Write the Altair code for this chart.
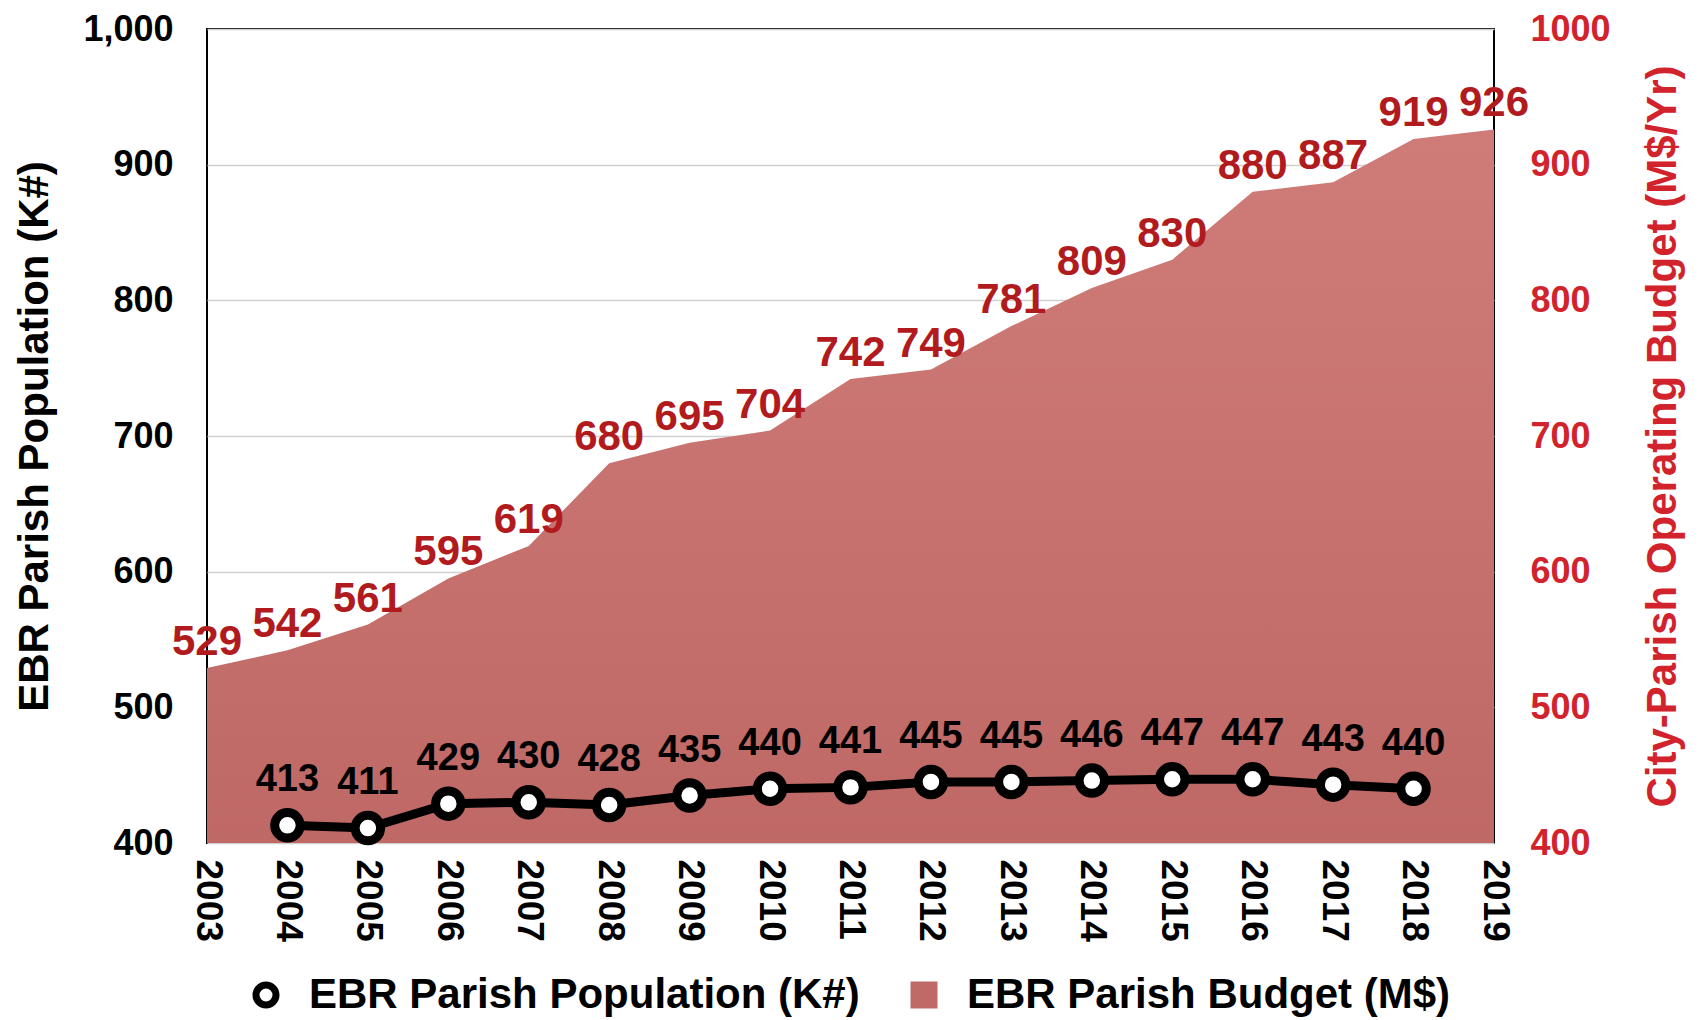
import altair as alt
import pandas as pd

# ---- data ----
budget_years = [2003, 2004, 2005, 2006, 2007, 2008, 2009, 2010, 2011,
                2012, 2013, 2014, 2015, 2016, 2017, 2018, 2019]
budget = [529, 542, 561, 595, 619, 680, 695, 704, 742,
          749, 781, 809, 830, 880, 887, 919, 926]
pop_years = [2004, 2005, 2006, 2007, 2008, 2009, 2010, 2011,
             2012, 2013, 2014, 2015, 2016, 2017, 2018]
population = [413, 411, 429, 430, 428, 435, 440, 441,
              445, 445, 446, 447, 447, 443, 440]
y_ticks = [400, 500, 600, 700, 800, 900, 1000]
series_names = ["EBR Parish Population (K#)", "EBR Parish Budget (M$)"]

FONT = "Liberation Sans"
RED_AXIS = "#d2232c"
RED_LABEL = "#b11b1d"
LEGEND_RED = "#c06a67"

bdf = pd.DataFrame({"year": budget_years, "budget": budget})
pdf = pd.DataFrame({"year": pop_years, "population": population,
                    "series": [series_names[0]] * len(pop_years)})

x_axis = alt.Axis(values=budget_years, format="d", labelAngle=90, ticks=False,
                  domain=False, grid=False, title=None, labelFontSize=37,
                  labelFont=FONT, labelFontWeight="bold", labelColor="black",
                  labelPadding=16, labelFlush=False, labelOverlap=False)
x_enc = alt.X("year:Q", scale=alt.Scale(domain=[2003, 2019], nice=False, zero=False),
              axis=x_axis)

y_scale = alt.Scale(domain=[400, 1000], nice=False, zero=False)

left_axis = alt.Axis(orient="left", title="EBR Parish Population (K#)", values=y_ticks,
                     format=",d", grid=True, gridColor="#d0d0d0", gridWidth=1.5,
                     ticks=False, domain=False, labelFontSize=36, labelFont=FONT,
                     labelFontWeight="bold", labelColor="black", labelPadding=34,
                     titleFontSize=42, titleFont=FONT, titleFontWeight="bold",
                     titleColor="black", titlePadding=26)
right_axis = alt.Axis(orient="right", title="City-Parish Operating Budget (M$/Yr)",
                      values=y_ticks, format="d", grid=False, ticks=False, domain=False,
                      labelFontSize=36, labelFont=FONT, labelFontWeight="bold",
                      labelColor=RED_AXIS, labelPadding=36,
                      titleFontSize=42, titleFont=FONT, titleFontWeight="bold",
                      titleColor=RED_AXIS, titlePadding=32, titleAngle=270,
                      titleBaseline="top")

gradient = alt.Gradient(gradient="linear",
                        stops=[alt.GradientStop(color="#cf7c79", offset=0),
                               alt.GradientStop(color="#b35a58", offset=1)],
                        x1=0, x2=0, y1=0, y2=1)

y_budget = alt.Y("budget:Q", scale=y_scale, axis=right_axis)
area = alt.Chart(bdf).mark_area(color=gradient, clip=True).encode(x=x_enc, y=y_budget)
btext = alt.Chart(bdf).mark_text(baseline="bottom", dy=-4, fontSize=42, font=FONT,
                                 fontWeight="bold", color=RED_LABEL).encode(
    x=x_enc, y=y_budget, text="budget:Q")

legend = alt.Legend(title=None, orient="none", legendX=38, legendY=945,
                    direction="horizontal",
                    labelFontSize=42, labelFont=FONT, labelFontWeight="bold",
                    labelColor="black", symbolSize=400, symbolStrokeWidth=7,
                    labelOffset=22, columnPadding=40, labelLimit=1000)

y_pop = alt.Y("population:Q", scale=y_scale, axis=left_axis)
line = alt.Chart(pdf).mark_line(color="black", strokeWidth=9).encode(x=x_enc, y=y_pop)
points = alt.Chart(pdf).mark_point(filled=True, size=650, strokeWidth=9, opacity=1).encode(
    x=x_enc, y=y_pop,
    shape=alt.Shape("series:N", scale=alt.Scale(domain=series_names, range=["circle", "square"]),
                    legend=legend),
    fill=alt.Fill("series:N", scale=alt.Scale(domain=series_names, range=["white", LEGEND_RED]),
                  legend=legend),
    stroke=alt.Stroke("series:N", scale=alt.Scale(domain=series_names, range=["black", LEGEND_RED]),
                      legend=legend),
)
ptext = alt.Chart(pdf).mark_text(baseline="bottom", dy=-26, fontSize=38, font=FONT,
                                 fontWeight="bold", color="black").encode(
    x=x_enc, y=y_pop, text="population:Q")

budget_layer = alt.layer(area, btext)
pop_layer = alt.layer(line, points, ptext)

chart = alt.layer(budget_layer, pop_layer).resolve_scale(y="independent").properties(
    width=1287, height=814,
    padding={"left": 5, "top": 3, "right": 5, "bottom": 0},
    background="white",
).configure_view(stroke="black", strokeWidth=2)

chart.save("out.html", embed_options={"renderer": "svg", "actions": False})
